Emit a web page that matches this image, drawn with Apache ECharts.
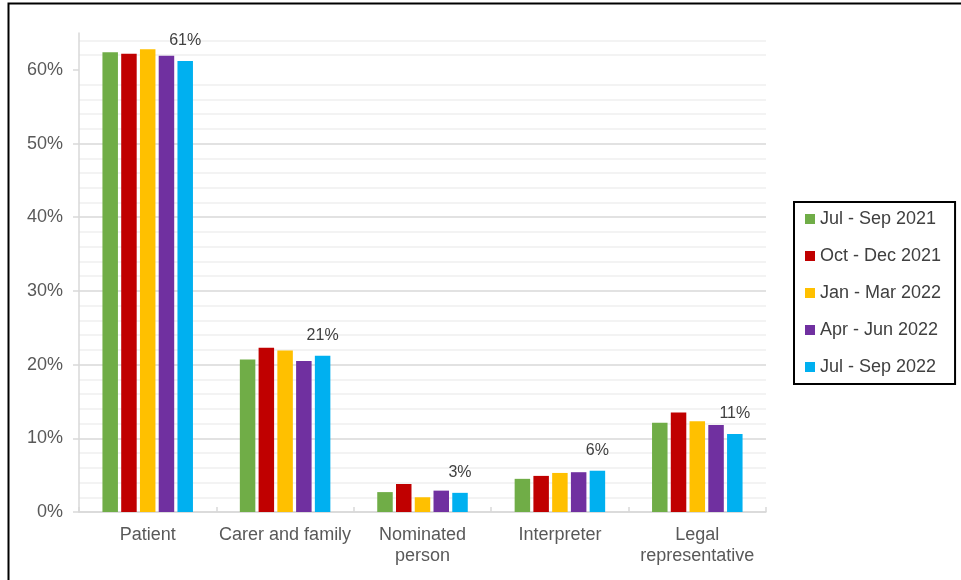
<!DOCTYPE html>
<html>
<head>
<meta charset="utf-8">
<script src="https://cdn.jsdelivr.net/npm/echarts@6/dist/echarts.min.js"></script>
<style>html,body{margin:0;padding:0;background:#fff}#c{width:961px;height:580px}</style>
</head>
<body>
<div id="c"></div>
<script>
const categories = ['Patient', 'Carer and family', 'Nominated\nperson', 'Interpreter', 'Legal\nrepresentative'];
const seriesNames = ['Jul - Sep 2021', 'Oct - Dec 2021', 'Jan - Mar 2022', 'Apr - Jun 2022', 'Jul - Sep 2022'];
const julSep2021 = [62.4, 20.7, 2.7, 4.5, 12.1];
const octDec2021 = [62.2, 22.3, 3.8, 4.9, 13.5];
const janMar2022 = [62.8, 21.9, 2.0, 5.3, 12.3];
const aprJun2022 = [61.9, 20.5, 2.9, 5.4, 11.8];
const julSep2022 = [61.2, 21.2, 2.6, 5.6, 10.6];
const yTickLabels = [0, 10, 20, 30, 40, 50, 60];

const colors = ['#70AD47', '#C00000', '#FFC000', '#7030A0', '#00B0F0'];
const seriesData = [julSep2021, octDec2021, janMar2022, aprJun2022, julSep2022];
const font = "'Liberation Sans', Arial, sans-serif";

const minorColors = ['rgba(0,0,0,0)', '#efefef', '#efefef', '#efefef', '#efefef'];

const chart = echarts.init(document.getElementById('c'), null, {renderer: 'canvas'});
chart.setOption({
  animation: false,
  textStyle: {fontFamily: font},
  color: colors,
  graphic: [{
    type: 'rect', shape: {x: 8.5, y: 3.5, width: 1000, height: 700},
    style: {fill: 'none', stroke: '#000', lineWidth: 2}, silent: true
  }],
  grid: {left: 79, right: 195, top: 33, bottom: 68, containLabel: false},
  legend: {
    orient: 'vertical', left: 794, top: 202,
    padding: [8, 14, 8, 11], itemGap: 19, itemWidth: 10, itemHeight: 10,
    icon: 'rect', borderColor: '#000', borderWidth: 2,
    textStyle: {fontSize: 18, color: '#404040', fontFamily: font},
    data: seriesNames
  },
  xAxis: {
    type: 'category', data: categories,
    axisLine: {lineStyle: {color: '#d9d9d9', width: 1.5}},
    axisTick: {show: true, inside: true, length: 5, lineStyle: {color: '#d9d9d9', width: 1.5}},
    axisLabel: {interval: 0, fontSize: 18, color: '#595959', margin: 13, lineHeight: 21, fontFamily: font},
    splitLine: {show: false}
  },
  yAxis: [{
    type: 'value', min: 0, max: 65, interval: 2,
    axisLine: {show: true, lineStyle: {color: '#d9d9d9', width: 1.5}},
    axisTick: {show: true, length: 6, customValues: yTickLabels, lineStyle: {color: '#d9d9d9', width: 1.5}},
    axisLabel: {fontSize: 18, color: '#595959', margin: 16, customValues: yTickLabels, formatter: '{value}%', fontFamily: font},
    splitLine: {show: true, showMaxLine: false, lineStyle: {color: '#d9d9d9', width: 1.5}}
  }, {
    type: 'value', min: 0, max: 65, interval: 2, position: 'left',
    axisLine: {show: false}, axisTick: {show: false}, axisLabel: {show: false},
    splitLine: {show: true, showMaxLine: false, lineStyle: {color: minorColors, width: 1.5}}
  }],
  series: seriesNames.map((name, i) => ({
    name: name, type: 'bar', data: seriesData[i], yAxisIndex: 0,
    barWidth: 15.5, barGap: '21%',
    itemStyle: {color: colors[i]},
    label: i === 4 ? {
      show: true, position: 'top', distance: 12, fontSize: 16, color: '#404040', fontFamily: font,
      formatter: p => Math.round(p.value) + '%'
    } : {show: false}
  }))
});
</script>
</body>
</html>
